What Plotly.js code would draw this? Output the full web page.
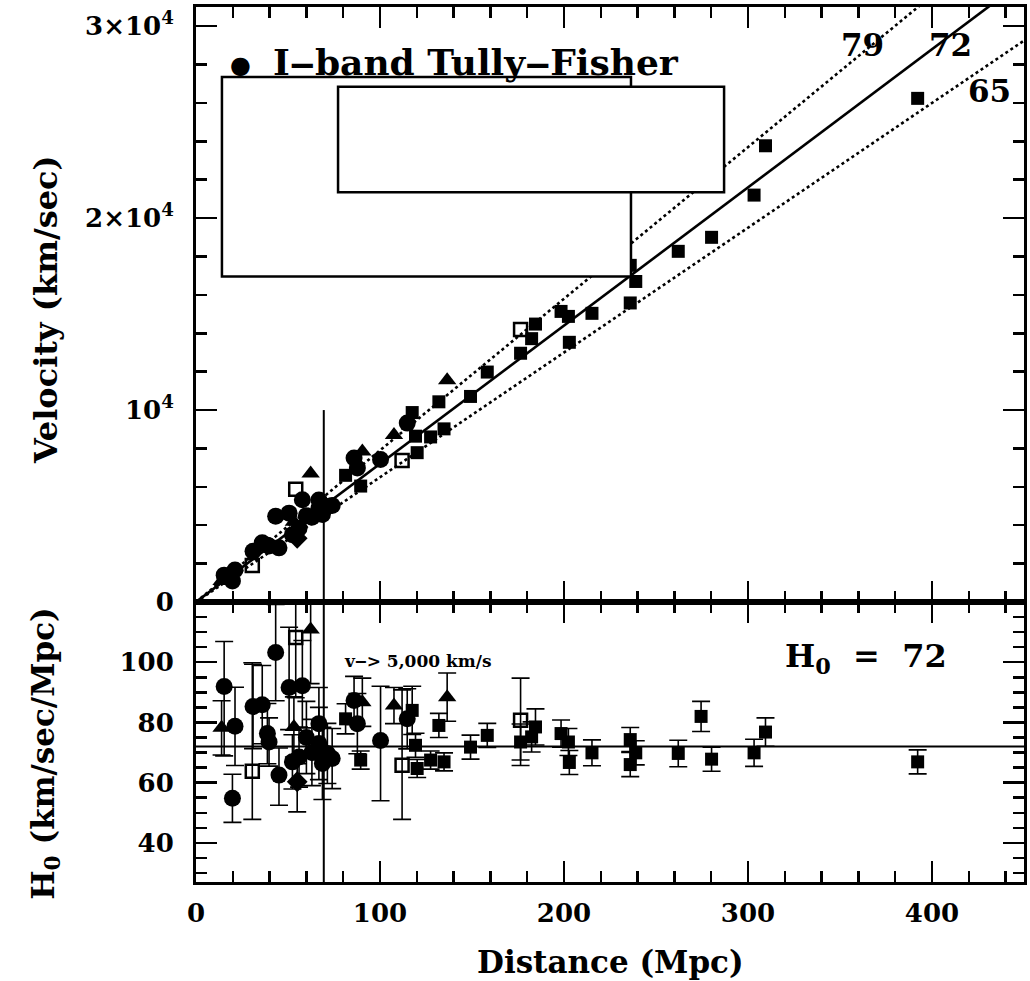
<!DOCTYPE html>
<html><head><meta charset="utf-8">
<script src="https://cdn.plot.ly/plotly-3.0.1.min.js"></script>
<style>html,body{margin:0;padding:0;background:#fff}</style>
</head><body><div id="chart" style="width:1030px;height:981px"></div>
<script>
// ---- I-band Tully-Fisher (filled circles) ----
const tfDist  = [15.3, 21.2, 19.8, 31.0, 36.0, 38.8, 39.7, 43.3, 45.1, 50.6, 57.8, 52.4, 56.0, 60.0, 63.0, 66.8, 66.8, 68.7, 71.4, 74.0, 85.9, 87.7, 100.3, 114.8];
const tfVel   = [1400, 1670, 1090, 2650, 3090, 2960, 2920, 4470, 2820, 4630, 5330, 3510, 3840, 4500, 4410, 5320, 4880, 4560, 4980, 5030, 7500, 6980, 7420, 9320];
const tfH0    = [91.9, 78.7, 54.8, 85.3, 85.9, 76.3, 73.5, 103.2, 62.5, 91.6, 92.2, 66.9, 68.5, 75.0, 70.0, 79.6, 73.0, 66.4, 69.7, 68.0, 87.3, 79.6, 74.0, 81.2];
const tfErrHi = [15, 13, 8, 14, 13, 10, 8, 16, 9, 20, 15, 9, 10, 12, 11, 12, 12, 12, 10, 10, 8, 10, 18, 10];
const tfErrLo = [23, 13, 8, 14, 13, 10, 8, 16, 10, 14, 14, 9, 10, 12, 11, 12, 12, 12, 10, 10, 8, 10, 20, 10];

// ---- filled triangles ----
const trDist = [13.9, 53.2, 62.3, 90.4, 107.6, 136.5];
const trVel  = [1090, 4180, 6700, 7840, 8700, 11550];
const trH0   = [78.2, 78.5, 110.9, 86.7, 85.6, 88.4];
const trErr  = [9, 10, 18, 8, 6, 8];

// ---- open squares ----
const osDist  = [30.6, 54.2, 112.0, 176.4];
const osVel   = [1900, 5870, 7370, 14200];
const osH0    = [63.8, 108.2, 65.8, 80.7];
const osErrHi = [36, 12, 25, 14];
const osErrLo = [16, 20, 18, 15];

// ---- filled diamond ----
const dmDist  = [55.0];
const dmVel   = [3320];
const dmH0    = [60.3];
const dmErrHi = [6];
const dmErrLo = [10];

// ---- filled squares ----
const sqDist = [81.3, 89.5, 117.5, 119.3, 120.2, 127.5, 132.0, 134.8, 149.2, 158.3, 176.4, 182.4, 184.5, 198.4, 202.4, 202.9, 215.2, 236.0, 236.0, 239.0, 262.1, 274.5, 280.2, 303.3, 309.5, 392.2];
const sqVel  = [6600, 6040, 9870, 8640, 7780, 8600, 10430, 9020, 10710, 11980, 12960, 13720, 14480, 15140, 14880, 13530, 15040, 17540, 15580, 16700, 18270, 22510, 19000, 21200, 23770, 26240];
const sqH0   = [81.2, 67.5, 84.0, 72.4, 64.7, 67.5, 79.0, 66.9, 71.8, 75.7, 73.5, 75.2, 78.5, 76.3, 73.5, 66.7, 69.9, 74.3, 66.0, 69.9, 69.7, 82.0, 67.8, 69.9, 76.8, 66.9];
const sqErr  = [5, 3, 8, 4, 3, 3, 4, 3, 4, 4, 6, 5, 6, 4.5, 4.5, 4, 4.3, 4, 4, 4, 4.4, 5, 4, 4.5, 4.7, 4];

// ---- reference lines ----
const hubbleValues = [65, 72, 79];
const hubbleDash   = ['dot', 'solid', 'dot'];
const hubbleLabels = ['65', '72', '79'];
const bestH0 = 72;
const cutVelocity = 5000;
const xMax = 450;

const FONT = 'DejaVu Serif';
const BLACK = '#000';

function topPts(x, y, marker) {
  return {type: 'scatter', mode: 'markers', x: x, y: y, xaxis: 'x2', yaxis: 'y2',
          marker: marker, showlegend: false, hoverinfo: 'x+y'};
}
function botPts(x, y, hi, lo, marker) {
  return {type: 'scatter', mode: 'markers', x: x, y: y, xaxis: 'x', yaxis: 'y',
          marker: marker, showlegend: false, hoverinfo: 'x+y',
          error_y: {type: 'data', symmetric: false, array: hi, arrayminus: lo,
                    color: BLACK, thickness: 1.6, width: 9}};
}
const mCircle  = {symbol: 'circle', size: 17, color: BLACK, line: {width: 0}};
const mSquare  = {symbol: 'square', size: 13, color: BLACK, line: {width: 0}};
const mTri     = {symbol: 'triangle-up', size: 16, color: BLACK, line: {width: 0}};
const mOpenSq  = {symbol: 'square-open', size: 13, color: BLACK, line: {width: 2.5, color: BLACK}};
const mDiamond = {symbol: 'diamond', size: 16, color: BLACK, line: {width: 0}};

const traces = [];
// Hubble lines (top panel)
hubbleValues.forEach((h, i) => {
  traces.push({type: 'scatter', mode: 'lines', x: [0, xMax], y: [0, h * xMax],
               xaxis: 'x2', yaxis: 'y2', showlegend: false, hoverinfo: 'skip',
               line: {color: BLACK, width: 2.6, dash: hubbleDash[i]}});
});
const cutDist = cutVelocity / bestH0;
traces.push({type: 'scatter', mode: 'lines', x: [cutDist, cutDist], y: [0, 10000],
             xaxis: 'x2', yaxis: 'y2', showlegend: false, hoverinfo: 'skip',
             line: {color: BLACK, width: 2}});
traces.push({type: 'scatter', mode: 'lines', x: [cutDist, cutDist], y: [0, 200],
             xaxis: 'x', yaxis: 'y', showlegend: false, hoverinfo: 'skip',
             line: {color: BLACK, width: 2}});
traces.push({type: 'scatter', mode: 'lines', x: [0, xMax], y: [bestH0, bestH0],
             xaxis: 'x', yaxis: 'y', showlegend: false, hoverinfo: 'skip',
             line: {color: BLACK, width: 2.2}});

// top panel points
traces.push(topPts(sqDist, sqVel, mSquare));
traces.push(topPts(osDist, osVel, mOpenSq));
traces.push(topPts(trDist, trVel, mTri));
traces.push(topPts(dmDist, dmVel, mDiamond));
traces.push(topPts(tfDist, tfVel, mCircle));
// bottom panel points
traces.push(botPts(sqDist, sqH0, sqErr, sqErr, mSquare));
traces.push(botPts(osDist, osH0, osErrHi, osErrLo, mOpenSq));
traces.push(botPts(trDist, trH0, trErr, trErr, mTri));
traces.push(botPts(dmDist, dmH0, dmErrHi, dmErrLo, mDiamond));
traces.push(botPts(tfDist, tfH0, tfErrHi, tfErrLo, mCircle));

const tickFont = {family: FONT, size: 26, color: BLACK, weight: 'bold'};
const baseAxis = {
  ticks: 'inside', ticklen: 21, tickwidth: 2.5, tickcolor: BLACK,
  mirror: 'allticks', showline: true, linewidth: 3, linecolor: BLACK,
  showgrid: false, zeroline: false, tickfont: tickFont
};
function minor(d) { return {dtick: d, ticks: 'inside', ticklen: 11, tickwidth: 2.5, tickcolor: BLACK, showgrid: false}; }

const layout = {
  width: 1030, height: 981,
  margin: {l: 196, r: 6, t: 7, b: 99},
  paper_bgcolor: '#fff', plot_bgcolor: '#fff',
  showlegend: false,
  xaxis: Object.assign({}, baseAxis, {domain: [0, 1], anchor: 'y', range: [0, xMax],
          tickvals: [0, 100, 200, 300, 400], minor: minor(20), ticklabelstandoff: 6}),
  xaxis2: Object.assign({}, baseAxis, {domain: [0, 1], anchor: 'y2', range: [0, xMax],
          matches: 'x', tickvals: [0, 100, 200, 300, 400], minor: minor(20), showticklabels: false}),
  yaxis: Object.assign({}, baseAxis, {domain: [0, 0.32], anchor: 'x', range: [27, 120],
          tickvals: [40, 60, 80, 100], minor: minor(5), ticklabelstandoff: 14}),
  yaxis2: Object.assign({}, baseAxis, {domain: [0.32, 1], anchor: 'x2', range: [0, 31000],
          tickvals: [0, 10000, 20000, 30000],
          ticktext: ['0', '10<sup>4</sup>', '2×10<sup>4</sup>', '3×10<sup>4</sup>'],
          minor: minor(2000), ticklabelstandoff: 14}),
  shapes: [
    {type: 'rect', xref: 'x2', yref: 'y2', x0: 14.1, x1: 236.4, y0: 16960, y1: 27350,
     fillcolor: '#fff', line: {color: BLACK, width: 2.5}, layer: 'above'},
    {type: 'rect', xref: 'x2', yref: 'y2', x0: 77.2, x1: 287.0, y0: 21350, y1: 26840,
     fillcolor: '#fff', line: {color: BLACK, width: 2.5}, layer: 'above'}
  ],
  annotations: [
    {xref: 'paper', yref: 'paper', x: -0.182, y: 0.654, text: 'Velocity (km/sec)', textangle: -90,
     showarrow: false, xanchor: 'center', yanchor: 'middle',
     font: {family: FONT, size: 32, color: BLACK, weight: 'bold'}},
    {xref: 'paper', yref: 'paper', x: -0.182, y: 0.147, text: 'H<sub>0</sub> (km/sec/Mpc)', textangle: -90,
     showarrow: false, xanchor: 'center', yanchor: 'middle',
     font: {family: FONT, size: 31, color: BLACK, weight: 'bold'}},
    {xref: 'paper', yref: 'paper', x: 0.5, y: -0.0914, text: 'Distance (Mpc)',
     showarrow: false, xanchor: 'center', yanchor: 'middle',
     font: {family: FONT, size: 31, color: BLACK, weight: 'bold'}},
    {xref: 'x2', yref: 'y2', x: 24, y: 27970, text: '●',
     showarrow: false, xanchor: 'center', yanchor: 'middle',
     font: {family: FONT, size: 24, color: BLACK}},
    {xref: 'x2', yref: 'y2', x: 41, y: 28130, text: 'I‒band Tully‒Fisher',
     showarrow: false, xanchor: 'left', yanchor: 'middle',
     font: {family: FONT, size: 36, color: BLACK, weight: 'bold'}},
    {xref: 'x2', yref: 'y2', x: 362, y: 29020, text: hubbleLabels[2], showarrow: false,
     xanchor: 'center', yanchor: 'middle', font: {family: FONT, size: 31, color: BLACK, weight: 'bold'}},
    {xref: 'x2', yref: 'y2', x: 410, y: 29020, text: hubbleLabels[1], showarrow: false,
     xanchor: 'center', yanchor: 'middle', font: {family: FONT, size: 31, color: BLACK, weight: 'bold'}},
    {xref: 'x2', yref: 'y2', x: 431.5, y: 26620, text: hubbleLabels[0], showarrow: false,
     xanchor: 'center', yanchor: 'middle', font: {family: FONT, size: 31, color: BLACK, weight: 'bold'}},
    {xref: 'x', yref: 'y', x: 364, y: 101.5, text: 'H<sub>0</sub>  =  72', showarrow: false,
     xanchor: 'center', yanchor: 'middle', font: {family: FONT, size: 32, color: BLACK, weight: 'bold'}},
    {xref: 'x', yref: 'y', x: 79.5, y: 100.3, text: 'v‒> 5,000 km/s', showarrow: false,
     xanchor: 'left', yanchor: 'middle', font: {family: FONT, size: 17, color: BLACK, weight: 'bold'}}
  ]
};

Plotly.newPlot('chart', traces, layout, {displayModeBar: false, staticPlot: true});
</script>
</body></html>
